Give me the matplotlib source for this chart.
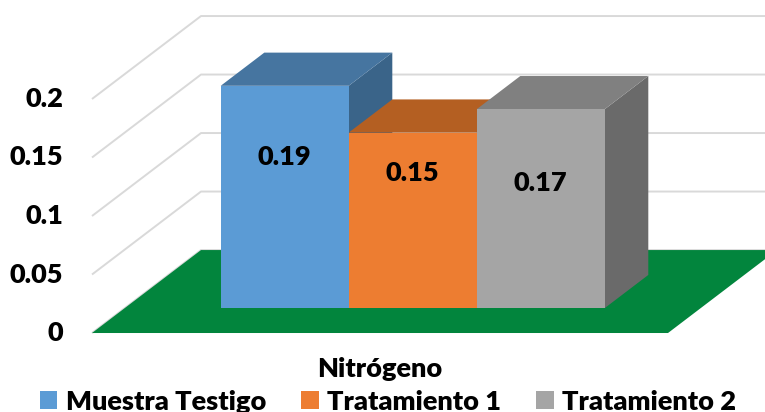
import matplotlib
matplotlib.use("Agg")
import matplotlib.pyplot as plt
from matplotlib.patches import Polygon, Patch

# ---- data ----
categories = ["Muestra Testigo", "Tratamiento 1", "Tratamiento 2"]
values = [0.19, 0.15, 0.17]
value_labels = ["0.19", "0.15", "0.17"]
group_label = "Nitrógeno"
y_ticks = [0, 0.05, 0.1, 0.15, 0.2]
y_tick_labels = ["0", "0.05", "0.1", "0.15", "0.2"]

# ---- style ----
front_colors = ["#5B9BD5", "#ED7D31", "#A5A5A5"]
top_colors = ["#4675A0", "#B45F22", "#808080"]
side_colors = ["#3A6489", "#9C5220", "#6A6A6A"]
floor_color = "#02853D"
grid_color = "#D9D9D9"
FONT = ["Lato", "DejaVu Sans"]
FS = 19.5
WEIGHT = "heavy"

# oblique depth vector for the full floor depth (x in bar widths, y in value units)
DX, DY = 0.8516, 0.0709
GAP = 0.75            # space beside the bar group, in bar widths
D0, D1 = 0.3, 0.7     # bar depth range within the floor
label_frac = [0.68, 0.77, 0.63]   # data-label height as fraction of the bar

plt.rcParams["font.family"] = FONT
plt.rcParams["font.weight"] = WEIGHT

fig = plt.figure(figsize=(7.65, 4.12), dpi=100)
ax = fig.add_axes([0, 0, 1, 1])
XMIN, XMAX = -0.71875, 5.2578
ax.set_xlim(XMIN, XMAX)
ax.set_ylim(-0.0675, 0.2846)
ax.axis("off")


def proj(x, v, d):
    return (x + d * DX, v + d * DY)


n = len(values)
floor_w = 2 * GAP + n

# gridlines on the left wall and back wall
for v in y_ticks:
    p0 = proj(0, v, 0)
    p1 = proj(0, v, 1)
    ax.plot([p0[0], p1[0], XMAX], [p0[1], p1[1], p1[1]],
            color=grid_color, lw=1.4, zorder=1, solid_capstyle="butt")

# floor
floor = Polygon([proj(0, 0, 0), proj(floor_w, 0, 0),
                 proj(floor_w, 0, 1), proj(0, 0, 1)],
                closed=True, facecolor=floor_color, edgecolor="none", zorder=2)
ax.add_patch(floor)

# bars, drawn left to right so each front face overlaps the previous side face
z = 3
for i, val in enumerate(values):
    x0 = GAP + i
    x1 = x0 + 1
    front = [proj(x0, 0, D0), proj(x1, 0, D0), proj(x1, val, D0), proj(x0, val, D0)]
    top = [proj(x0, val, D0), proj(x1, val, D0), proj(x1, val, D1), proj(x0, val, D1)]
    side = [proj(x1, 0, D0), proj(x1, val, D0), proj(x1, val, D1), proj(x1, 0, D1)]
    ax.add_patch(Polygon(side, closed=True, facecolor=side_colors[i], edgecolor="none", zorder=z))
    ax.add_patch(Polygon(top, closed=True, facecolor=top_colors[i], edgecolor="none", zorder=z))
    ax.add_patch(Polygon(front, closed=True, facecolor=front_colors[i], edgecolor="none", zorder=z + 0.5))
    cx, cy = proj(x0 + 0.5, val * label_frac[i], D0)
    ax.text(cx, cy, value_labels[i], ha="center", va="center",
            fontsize=FS, fontweight=WEIGHT, color="black", zorder=z + 1)
    z += 2

# value axis labels
for v, lab in zip(y_ticks, y_tick_labels):
    ax.text(-0.2266, v, lab, ha="right", va="center",
            fontsize=FS, fontweight=WEIGHT, color="black")

# category axis label
ax.text(floor_w / 2, -0.0376, group_label, ha="center", va="baseline",
        fontsize=FS, fontweight=WEIGHT, color="black")

# legend
handles = [Patch(facecolor=c, edgecolor="none") for c in front_colors]
fig.legend(handles, categories, loc="lower center", bbox_to_anchor=(0.507, -0.03),
           ncol=3, frameon=False, prop={"family": FONT, "weight": WEIGHT, "size": FS},
           handlelength=0.65, handleheight=0.65, handletextpad=0.3, columnspacing=1.3,
           borderaxespad=0.0)

fig.savefig("out.png", dpi=100)
